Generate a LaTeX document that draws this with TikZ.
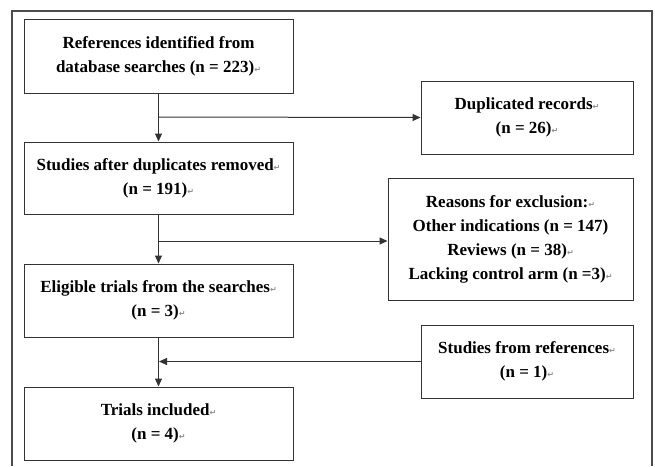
\documentclass[tikz,border=0pt]{standalone}
\usepackage{fontspec}
\setmainfont{Liberation Serif}
\newfontfamily\symfont{DejaVu Sans}
\usetikzlibrary{arrows.meta}
\newcommand{\pmark}{{\color{black!45}\symfont\fontsize{8}{8}\selectfont ↵}}
\tikzset{
  x=1pt, y=-1pt,
  box/.style={draw=black!80, line width=1pt, align=center, inner sep=0pt,
    font=\bfseries\fontsize{17}{24}\selectfont},
  arr/.style={draw=black!80, line width=1pt, -{Triangle[length=8pt,width=7pt]}},
  ln/.style={draw=black!80, line width=1pt},
  frame/.style={draw=black!70, line width=1.3pt}
}
\begin{document}
\begin{tikzpicture}
\useasboundingbox (0,0) rectangle (655,466);
\draw[frame] (12,466) -- (12,11) -- (652,11) -- (652,466);
% left column
\node[box, minimum width=269pt, minimum height=74pt] (refs) at (158.5,56)
  {References identified from\\database searches (n = 223)\pmark};
\node[box, minimum width=269pt, minimum height=72pt] (stud) at (158.5,178)
  {Studies after duplicates removed\pmark\\(n = 191)\pmark};
\node[box, minimum width=269pt, minimum height=73pt] (elig) at (158.5,300.5)
  {Eligible trials from the searches\pmark\\(n = 3)\pmark};
\node[box, minimum width=269pt, minimum height=73pt] (incl) at (158.5,423.5)
  {Trials included\pmark\\(n = 4)\pmark};
% right column
\node[box, minimum width=212pt, minimum height=73pt] (dup) at (527,117.5)
  {Duplicated records\pmark\\(n = 26)\pmark};
\node[box, minimum width=245pt, minimum height=122pt] (excl) at (510.5,239)
  {Reasons for exclusion:\pmark\\Other indications (n = 147)\\Reviews (n = 38)\pmark\\Lacking control arm (n =3)\pmark};
\node[box, minimum width=212pt, minimum height=73pt] (sref) at (527,361.5)
  {Studies from references\pmark\\(n = 1)\pmark};
% connectors
\coordinate (j1) at (159,117);
\coordinate (j2) at (159,241);
\coordinate (j3) at (159,361.5);
\draw[arr] (refs.south) -- (stud.north);
\draw[arr] (j1) -- (dup.west);
\draw[arr] (stud.south) -- (elig.north);
\draw[arr] (j2) -- (j2 -| excl.west);
\draw[arr] (elig.south) -- (incl.north);
\draw[arr] (sref.west) -- (j3);
\end{tikzpicture}
\end{document}
